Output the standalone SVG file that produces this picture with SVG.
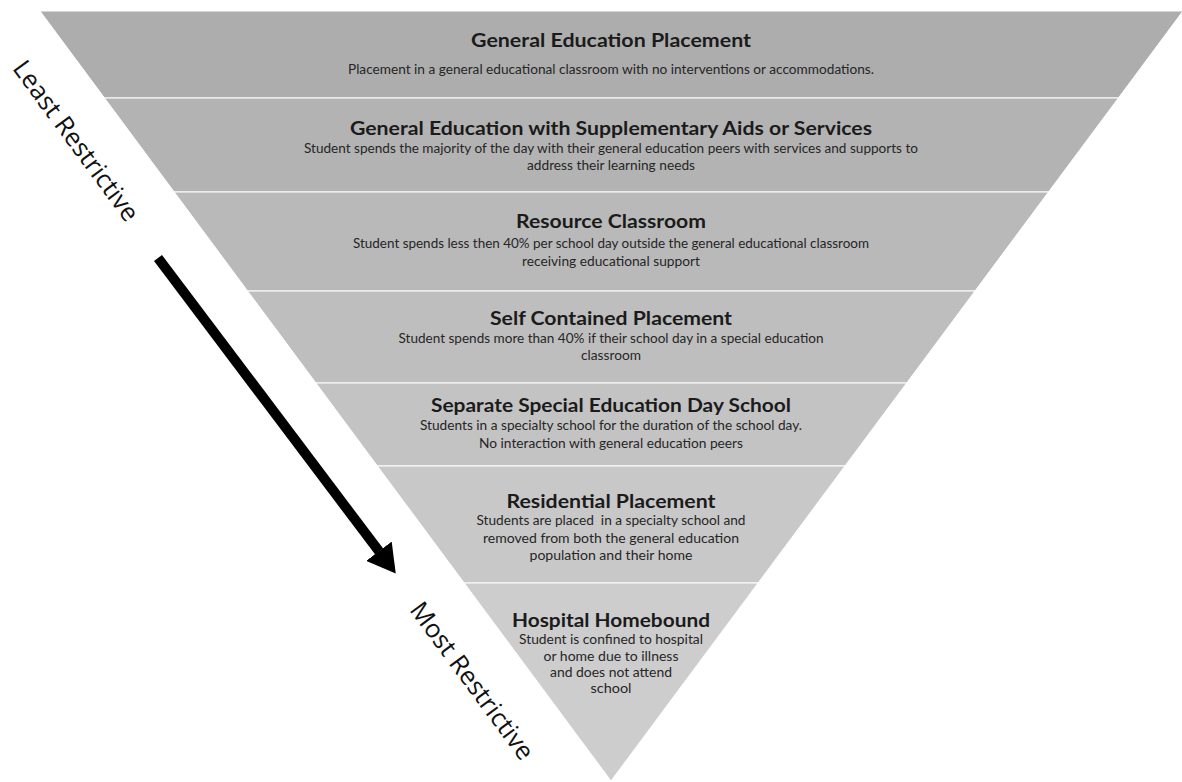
<svg xmlns="http://www.w3.org/2000/svg" width="1182" height="782" viewBox="0 0 1182 782">
<style>
.band{stroke:#ffffff;stroke-width:1}
.t{font-family:Lato,"Open Sans","Liberation Sans",sans-serif;font-weight:700;font-size:19px;fill:#1b1b1b;text-anchor:middle}
.s{font-family:Lato,"Open Sans","Liberation Sans",sans-serif;font-size:13.5px;fill:#262626;text-anchor:middle}
.side{font-family:"Open Sans","Noto Sans","Liberation Sans",sans-serif;font-size:25.5px;fill:#111111;text-anchor:middle}
</style>
<defs>
<marker id="ah" markerUnits="userSpaceOnUse" viewBox="0 0 28 32" markerWidth="28" markerHeight="32" refX="0.5" refY="16" orient="auto">
<path d="M0,0 L28,16 L0,32 Z" fill="#000000"/>
</marker>
</defs>
<rect width="1182" height="782" fill="#ffffff"/>
<g id="band1">
<polygon class="band" fill="#adadad" points="40,11 1183,11 1118.4,98 104.5,98"/>
<text class="t" x="611" y="47" textLength="280" lengthAdjust="spacingAndGlyphs">General Education Placement</text>
<text class="s" x="611" y="74" textLength="526" lengthAdjust="spacingAndGlyphs">Placement in a general educational classroom with no interventions or accommodations.</text>
</g>
<g id="band2">
<polygon class="band" fill="#b3b3b3" points="104.5,98 1118.4,98 1048.5,192 174.2,192"/>
<text class="t" x="611" y="135" textLength="522" lengthAdjust="spacingAndGlyphs">General Education with Supplementary Aids or Services</text>
<text class="s" x="611" y="153" textLength="614" lengthAdjust="spacingAndGlyphs">Student spends the majority of the day with their general education peers with services and supports to</text>
<text class="s" x="611" y="170" textLength="168" lengthAdjust="spacingAndGlyphs">address their learning needs</text>
</g>
<g id="band3">
<polygon class="band" fill="#b9b9b9" points="174.2,192 1048.5,192 975,291 247.6,291"/>
<text class="t" x="611" y="228" textLength="190" lengthAdjust="spacingAndGlyphs">Resource Classroom</text>
<text class="s" x="611" y="248" textLength="516" lengthAdjust="spacingAndGlyphs">Student spends less then 40% per school day outside the general educational classroom</text>
<text class="s" x="611" y="266" textLength="178" lengthAdjust="spacingAndGlyphs">receiving educational support</text>
</g>
<g id="band4">
<polygon class="band" fill="#bebebe" points="247.6,291 975,291 906.7,383 315.9,383"/>
<text class="t" x="611" y="325" textLength="242" lengthAdjust="spacingAndGlyphs">Self Contained Placement</text>
<text class="s" x="611" y="343" textLength="425" lengthAdjust="spacingAndGlyphs">Student spends more than 40% if their school day in a special education</text>
<text class="s" x="611" y="360" textLength="60" lengthAdjust="spacingAndGlyphs">classroom</text>
</g>
<g id="band5">
<polygon class="band" fill="#c3c3c3" points="315.9,383 906.7,383 845,466 377.4,466"/>
<text class="t" x="611" y="412" textLength="360" lengthAdjust="spacingAndGlyphs">Separate Special Education Day School</text>
<text class="s" x="611" y="430" textLength="382" lengthAdjust="spacingAndGlyphs">Students in a specialty school for the duration of the school day.</text>
<text class="s" x="611" y="448" textLength="264" lengthAdjust="spacingAndGlyphs">No interaction with general education peers</text>
</g>
<g id="band6">
<polygon class="band" fill="#c8c8c8" points="377.4,466 845,466 758.1,583 464.2,583"/>
<text class="t" x="611" y="508" textLength="209" lengthAdjust="spacingAndGlyphs">Residential Placement</text>
<text class="s" x="611" y="525" textLength="269" lengthAdjust="spacingAndGlyphs" style="white-space:pre">Students are placed  in a specialty school and</text>
<text class="s" x="611" y="543" textLength="256" lengthAdjust="spacingAndGlyphs">removed from both the general education</text>
<text class="s" x="611" y="560" textLength="163" lengthAdjust="spacingAndGlyphs">population and their home</text>
</g>
<g id="band7">
<polygon class="band" fill="#cdcdcd" points="464.2,583 758.1,583 611,781"/>
<text class="t" x="611" y="627" textLength="198" lengthAdjust="spacingAndGlyphs">Hospital Homebound</text>
<text class="s" x="611" y="644" textLength="184" lengthAdjust="spacingAndGlyphs">Student is confined to hospital</text>
<text class="s" x="611" y="661" textLength="135" lengthAdjust="spacingAndGlyphs">or home due to illness</text>
<text class="s" x="611" y="677" textLength="122" lengthAdjust="spacingAndGlyphs">and does not attend</text>
<text class="s" x="611" y="693" textLength="41" lengthAdjust="spacingAndGlyphs">school</text>
</g>
<g id="label-least">
<text class="side" transform="translate(69,146) rotate(53.5)">Least Restrictive</text>
</g>
<g id="label-most">
<text class="side" transform="translate(465,686) rotate(53.5)">Most Restrictive</text>
</g>
<g id="connectors">
<line x1="158" y1="258" x2="379.2" y2="551.6" stroke="#000000" stroke-width="10" marker-end="url(#ah)"/>
</g>
</svg>
